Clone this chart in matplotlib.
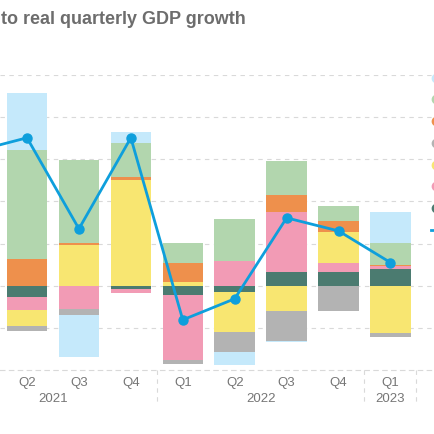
import matplotlib
matplotlib.use("Agg")
import matplotlib.pyplot as plt
import matplotlib.transforms as mtransforms
from matplotlib.lines import Line2D
import numpy as np

plt.rcParams['font.family'] = ['Liberation Sans', 'DejaVu Sans']

# quarters with bars (Q2 2021 .. Q1 2023); Q1 2021 only on the line (off the left edge)
quarters = ['Q2', 'Q3', 'Q4', 'Q1', 'Q2', 'Q3', 'Q4', 'Q1']
years = ['2021', '2022', '2023']

# contributions, percentage points
teal = [-0.27, 0.00, -0.08, -0.21, -0.15, 0.32, 0.32, 0.40]
pink = [-0.30, -0.56, -0.09, -1.56, 0.58, 1.43, 0.21, 0.06]
yellow = [-0.38, 0.97, 2.50, 0.08, -0.95, -0.60, 0.75, -1.13]
gray = [-0.12, -0.13, 0.00, -0.08, -0.47, -0.71, -0.59, -0.08]
orange = [0.64, 0.05, 0.08, 0.47, 0.00, 0.40, 0.25, 0.04]
green = [2.59, 1.97, 0.80, 0.47, 1.00, 0.82, 0.36, 0.52]
lightblue = [1.34, -0.99, 0.26, 0.00, -0.30, -0.03, 0.00, 0.73]

# real GDP growth, Q1 2021 .. Q1 2023
gdp = [3.19, 3.51, 1.35, 3.51, -0.81, -0.31, 1.61, 1.30, 0.55]

series = [
    ('Net exports', teal, '#4b7b70'),
    ('Inventories', pink, '#f29bb5'),
    ('Private investment', yellow, '#f8e671'),
    ('Dwelling investment', gray, '#b3b3b3'),
    ('Public demand', orange, '#ee904c'),
    ('Household consumption', green, '#b2d6ae'),
    ('Statistical discrepancy', lightblue, '#c5e9fb'),
]

fig = plt.figure(figsize=(4.35, 4.35), dpi=100)
ax = fig.add_axes([0.0, 64 / 435, 432 / 435, 295 / 435])

x = np.arange(1, len(quarters) + 1)
pos = np.zeros(len(x))
neg = np.zeros(len(x))
for name, vals, col in series:
    v = np.array(vals)
    bottom = np.where(v >= 0, pos, neg)
    ax.bar(x, v, width=0.78, bottom=bottom, color=col, label=name, zorder=2)
    pos += np.where(v >= 0, v, 0)
    neg += np.where(v < 0, v, 0)

xl = np.arange(0, len(gdp))
ax.plot(xl, gdp, color='#0e9fdc', lw=2, marker='o', ms=6.5, zorder=3,
        label='Real GDP growth')

ax.set_xlim(0.48, 8.8)
ax.set_ylim(-2, 5)
ax.set_yticks(np.arange(-1, 6))
ax.yaxis.grid(True, color='#d9d9d9', lw=0.8, linestyle=(0, (4, 4)))
ax.set_axisbelow(True)
ax.tick_params(axis='y', left=False, labelleft=False)
for s in ['left', 'right', 'top']:
    ax.spines[s].set_visible(False)
ax.spines['bottom'].set_color('#d9d9d9')
ax.spines['bottom'].set_linewidth(0.8)
ax.spines['bottom'].set_linestyle((0, (4, 4)))

ax.set_xticks(x, quarters)
ax.tick_params(axis='x', length=0, pad=4.5, labelsize=9.5, labelcolor='#767676')

trans = mtransforms.blended_transform_factory(ax.transData, fig.transFigure)
for sep in [3.5, 7.5, 8.5]:
    ax.plot([sep, sep], [64 / 435, 30 / 435], transform=trans, clip_on=False,
            color='#d9d9d9', lw=0.8, linestyle=(0, (4, 4)))
for yr, xc in zip(years, [1.5, 5.5, 8.0]):
    ax.text(xc, 36 / 435, yr, transform=trans, ha='center', va='center',
            fontsize=9.5, color='#767676')

fig.text(1 / 435, 1 - 20 / 435, 'to real quarterly GDP growth', ha='left',
         va='center', fontsize=13, fontweight='bold', color='#6d6d6d')

# legend sits past the right edge; only the keys peek in, as in the reference
handles = [Line2D([], [], ls='none', marker='o', ms=6, color=col)
           for name, vals, col in series[::-1]]
handles.append(Line2D([], [], color='#0e9fdc', lw=2))
labels = [name for name, vals, col in series[::-1]] + ['Real GDP growth']
fig.legend(handles, labels, loc='upper left',
           bbox_to_anchor=(431 / 435, 1 - 74 / 435),
           frameon=False, borderpad=0, borderaxespad=0, handlelength=0.8,
           handletextpad=0.5, labelspacing=0.78, fontsize=9)

fig.savefig('out.png', dpi=100)
